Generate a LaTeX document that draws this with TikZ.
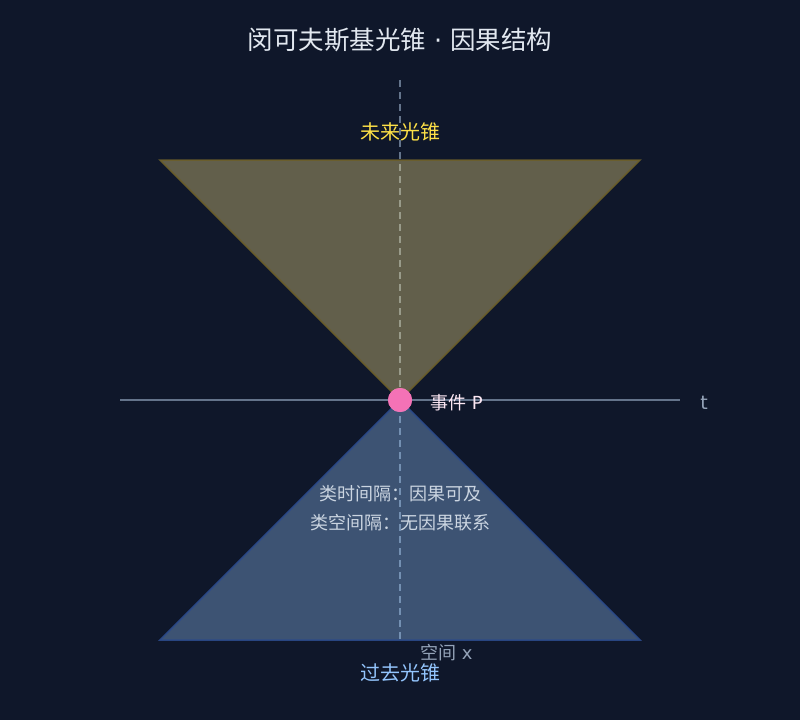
\documentclass[tikz,border=0pt]{standalone}
\usepackage{fontspec}
\setmainfont{Noto Sans CJK SC}
\newfontfamily\latinf{DejaVu Sans}
\definecolor{bg}{HTML}{0F172A}
\definecolor{axis}{HTML}{64748B}
\definecolor{futfill}{HTML}{FDE68A}
\definecolor{futedge}{HTML}{6B5E2A}
\definecolor{pastfill}{HTML}{93C5FD}
\definecolor{pastedge}{HTML}{2B4A8A}
\definecolor{ptpink}{HTML}{F472B6}
\definecolor{titlec}{HTML}{E2E8F0}
\definecolor{labc}{HTML}{CBD5E1}
\definecolor{axlab}{HTML}{94A3B8}
\definecolor{futlab}{HTML}{FDE047}
\definecolor{pastlab}{HTML}{93C5FD}
\definecolor{evlab}{HTML}{FCE7F3}
\begin{document}
\begin{tikzpicture}[x=1pt,y=-1pt,
  txt/.style={inner sep=0pt,font=\fontsize{#1}{#1}\selectfont},
  axisline/.style={draw=axis,line width=2pt},
  cone/.style={line width=1.5pt,fill opacity=0.35,draw opacity=0.9}]
\fill[bg] (0,0) rectangle (800,720);
\useasboundingbox (0,0) rectangle (800,720);
\coordinate (vtop) at (400,80);
\coordinate (vbot) at (400,640);
\coordinate (hl) at (120,400);
\coordinate (hr) at (680,400);
\coordinate (fl) at (160,160);
\coordinate (fr) at (640,160);
\coordinate (pl) at (160,640);
\coordinate (pr) at (640,640);
\draw[axisline,dash pattern=on 7pt off 5pt] (vtop) -- (vbot);
\draw[axisline] (hl) -- (hr);
\node[circle,fill=ptpink,minimum size=24pt,inner sep=0pt] (P) at (400,400) {};
\filldraw[cone,fill=futfill,draw=futedge] (fl) -- (fr) -- (P.center) -- cycle;
\filldraw[cone,fill=pastfill,draw=pastedge] (pl) -- (pr) -- (P.center) -- cycle;
\node[circle,fill=ptpink,minimum size=24pt,inner sep=0pt] at (P) {};
\node[txt=25.5,text=titlec] (title) at (400,40) {闵可夫斯基光锥{\latinf\ ·\ }因果结构};
\node[txt=20,text=futlab] (future) at (400,132) {未来光锥};
\node[txt=20,text=pastlab] (past) at (400,673) {过去光锥};
\node[txt=18,text=evlab,anchor=west] (ev) at (430,403) {事件{\latinf\ P}};
\node[txt=19,text=axlab] (tlab) at (704,403) {\latinf t};
\node[txt=18,text=axlab,anchor=west] (xlab) at (420,653) {空间{\latinf\ x}};
\node[txt=18,text=labc] (tl) at (400,494) {类时间隔：因果可及};
\node[txt=18,text=labc] (sl) at (400,523) {类空间隔：无因果联系};
\end{tikzpicture}
\end{document}
